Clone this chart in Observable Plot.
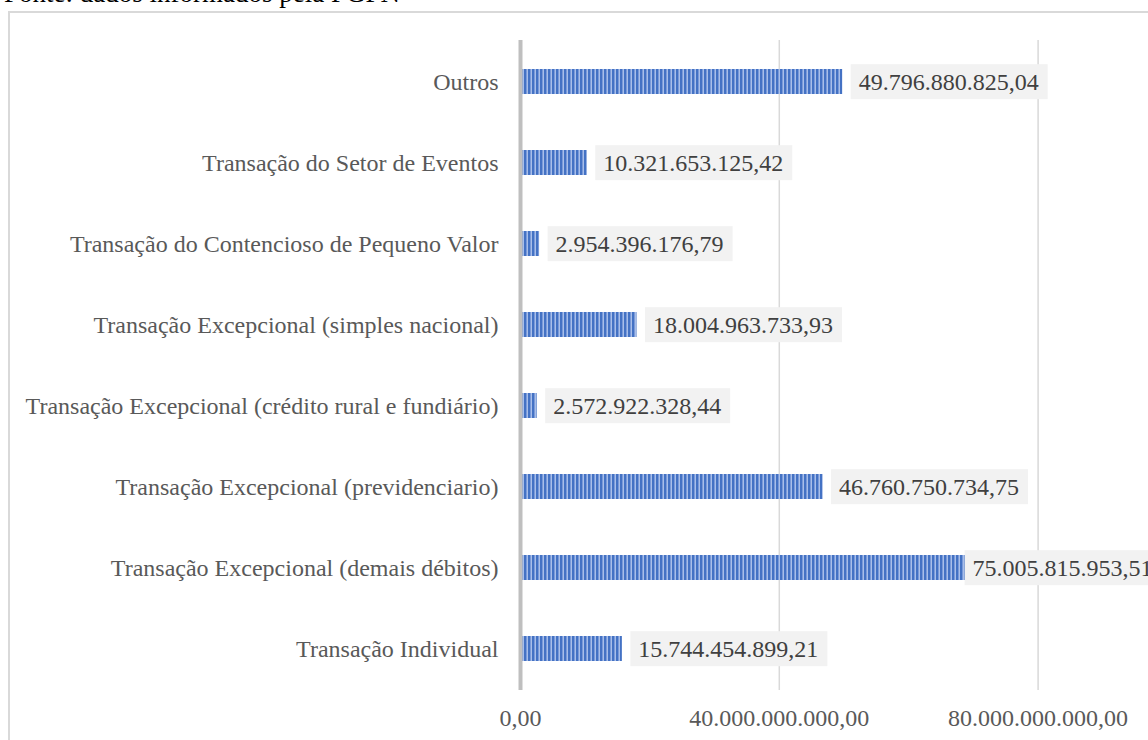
<!DOCTYPE html>
<html>
<head>
<meta charset="utf-8">
<script src="https://cdn.jsdelivr.net/npm/d3@7"></script>
<script src="https://cdn.jsdelivr.net/npm/@observablehq/plot@0.6"></script>
<style>
  html, body { margin: 0; padding: 0; background: #fff; overflow: hidden; width: 1148px; height: 740px; }
  #caption { position: absolute; left: 4px; top: -20px; font: 27px/1 "Liberation Serif", serif; color: #000; white-space: nowrap; }
  #frame { position: absolute; left: 8px; top: 11px; width: 1400px; height: 900px; border: 2px solid #d9d9d9; box-sizing: border-box; }
  #chart { position: absolute; left: 0; top: 0; width: 1300px; }
  #chart svg { max-width: none !important; width: 1300px; height: 740px; }
</style>
</head>
<body>
<div id="caption">Fonte: dados informados pela PGFN</div>
<div id="frame"></div>
<div id="chart"></div>
<script>
const categories = [
  "Outros",
  "Transação do Setor de Eventos",
  "Transação do Contencioso de Pequeno Valor",
  "Transação Excepcional (simples nacional)",
  "Transação Excepcional (crédito rural e fundiário)",
  "Transação Excepcional (previdenciario)",
  "Transação Excepcional (demais débitos)",
  "Transação Individual"
];
const values = [
  49796880825.04,
  10321653125.42,
  2954396176.79,
  18004963733.93,
  2572922328.44,
  46760750734.75,
  75005815953.51,
  15744454899.21
];
const xTicks = [0, 40e9, 80e9, 120e9];

const data = categories.map((c, i) => ({category: c, value: values[i]}));
const br = d3.formatLocale({decimal: ",", thousands: ".", grouping: [3], currency: ["R$ ", ""]});
const fmt = br.format(",.2f");
const labelCap = 67.4e9; // label pushed inside the plot area when it would overflow

const chart = Plot.plot({
  width: 1300,
  height: 740,
  marginLeft: 520,
  marginRight: 3.6,
  marginTop: 40,
  marginBottom: 50,
  style: {fontFamily: "'Liberation Serif', 'Times New Roman', serif", fontSize: "24px", background: "transparent", overflow: "visible"},
  x: {domain: [0, 120e9]},
  y: {domain: categories, paddingInner: 0.69, paddingOuter: 0.348},
  marks: [
    Plot.ruleX(xTicks.slice(1), {stroke: "#d9d9d9", strokeWidth: 1.5}),
    Plot.barX(data, {x: "value", y: "category", fill: "url(#stripes)", inset: 0}),
    Plot.ruleX([0], {stroke: "#bfbfbf", strokeWidth: 4}),
    Plot.text(data, {
      x: d => Math.min(d.value, labelCap),
      y: "category",
      text: d => fmt(d.value),
      textAnchor: "start",
      dx: 16,
      fill: "#404040",
      fontSize: 24,
      className: "vlabel"
    }),
    Plot.axisY({tickSize: 0, tickPadding: 22, color: "#595959", fontSize: 24, label: null}),
    Plot.axisX({ticks: xTicks, tickSize: 0, tickPadding: 18, color: "#595959", fontSize: 24, label: null, tickFormat: fmt})
  ]
});

document.getElementById("chart").appendChild(chart);

// stripe pattern
const ns = "http://www.w3.org/2000/svg";
const defs = document.createElementNS(ns, "defs");
defs.innerHTML = `
  <pattern id="stripes" patternUnits="userSpaceOnUse" width="4" height="10">
    <rect x="0" y="0" width="4" height="10" fill="#a9bfe9"></rect>
    <rect x="0" y="0" width="2" height="10" fill="#4472c4"></rect>
    <rect x="2" y="0" width="1" height="10" fill="#7b9bda"></rect>
  </pattern>`;
chart.insertBefore(defs, chart.firstChild);

// label background boxes
const g = chart.querySelector("g.vlabel") || chart.querySelector(".vlabel");
if (g) {
  const texts = g.querySelectorAll("text");
  texts.forEach(t => {
    const b = t.getBBox();
    const ctm = t.getAttribute("transform");
    const r = document.createElementNS(ns, "rect");
    const cy = b.y + b.height / 2;
    r.setAttribute("x", b.x - 8);
    r.setAttribute("y", cy - 17.5);
    r.setAttribute("width", b.width + 17);
    r.setAttribute("height", 35);
    r.setAttribute("fill", "#f2f2f2");
    if (ctm) r.setAttribute("transform", ctm);
    t.parentNode.insertBefore(r, t);
  });
}
</script>
</body>
</html>
